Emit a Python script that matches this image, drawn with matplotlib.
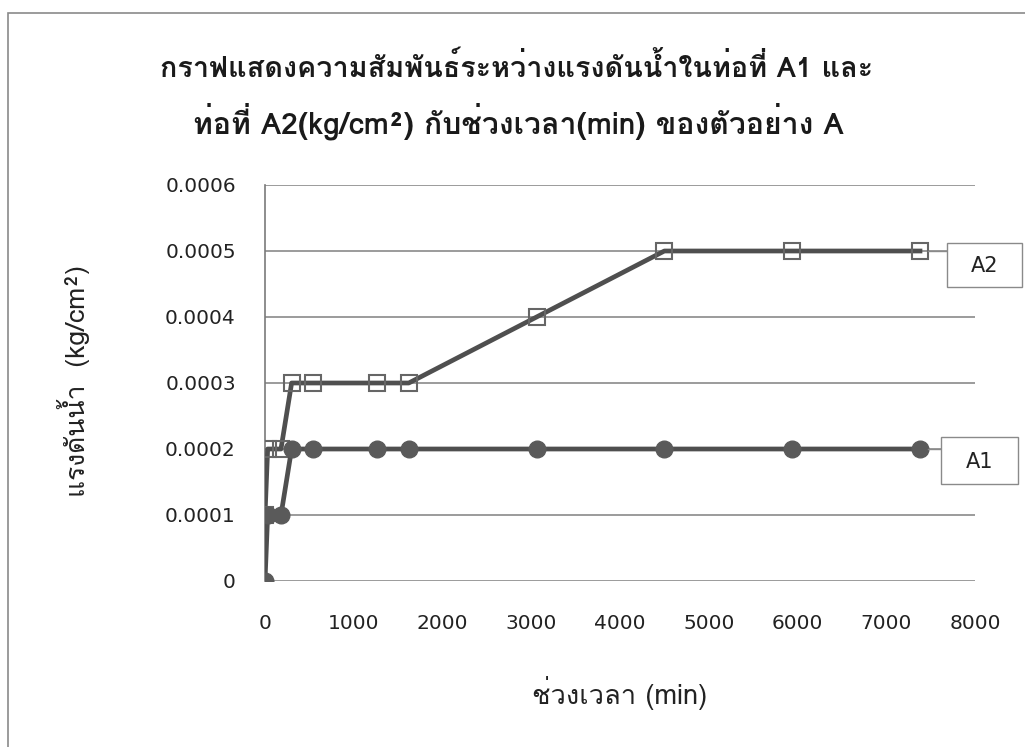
import matplotlib
matplotlib.use("Agg")
import matplotlib.pyplot as plt
from matplotlib import font_manager as fm
from matplotlib.ft2font import FT2Font
from matplotlib.patches import Rectangle
from matplotlib.lines import Line2D

# ---------------- data ----------------
time_min = [0, 30, 180, 300, 540, 1260, 1620, 3060, 4500, 5940, 7380]
a1_pressure = [0, 0.0001, 0.0001, 0.0002, 0.0002, 0.0002, 0.0002, 0.0002, 0.0002, 0.0002, 0.0002]
a2_pressure = [0.0001, 0.0002, 0.0002, 0.0003, 0.0003, 0.0003, 0.0003, 0.0004, 0.0005, 0.0005, 0.0005]
x_ticks = [0, 1000, 2000, 3000, 4000, 5000, 6000, 7000, 8000]
y_ticks = [0, 0.0001, 0.0002, 0.0003, 0.0004, 0.0005, 0.0006]
y_tick_labels = ["0", "0.0001", "0.0002", "0.0003", "0.0004", "0.0005", "0.0006"]
series_names = ["A1", "A2"]
title_line1 = "กราฟแสดงความสัมพันธ์ระหว่างแรงดันน้ำในท่อที่ A1 และ"
title_line2 = "ท่อที่ A2(kg/cm²) กับช่วงเวลา(min) ของตัวอย่าง A"
y_label = "แรงดันน้ำ  (kg/cm²)"
x_label = "ช่วงเวลา (min)"

# ---------------- fonts ----------------
def has_thai(path):
    try:
        f = FT2Font(path)
        return f.get_char_index(0x0E01) != 0
    except Exception:
        return False

thai_fonts = {fe.name for fe in fm.fontManager.ttflist if has_thai(fe.fname)}
thai_font = None
for p in ["Tahoma", "Loma", "Noto Sans Thai Looped", "Noto Sans Thai", "IBM Plex Sans Thai Looped"]:
    if p in thai_fonts:
        thai_font = p
        break
fam = ([thai_font] if thai_font else []) + ["DejaVu Sans"]
plt.rcParams["font.family"] = fam

# ---------------- figure ----------------
W, H = 1025, 747
fig = plt.figure(figsize=(W / 100, H / 100), dpi=100)
fig.patch.set_facecolor("white")

def fpx(x, y):
    return (x / W, 1 - y / H)

# outer chart border
fig.patches.append(Rectangle((8 / W, -0.05), 1.2, 1 - 13 / H + 0.05,
                             transform=fig.transFigure, fill=False,
                             edgecolor="#8a8a8a", linewidth=1.2))

ax = fig.add_axes([265 / W, 1 - 581 / H, (975 - 265) / W, (581 - 185) / H])
ax.set_xlim(0, 8000)
ax.set_ylim(0, 0.0006)
for s in ["top", "right", "bottom"]:
    ax.spines[s].set_visible(False)
ax.spines["left"].set_color("#7a7a7a")
ax.spines["left"].set_linewidth(1.2)
ax.set_xticks(x_ticks)
ax.set_xticklabels([str(t) for t in x_ticks])
ax.set_yticks(y_ticks)
ax.set_yticklabels(y_tick_labels)
ax.tick_params(axis="both", length=0, labelsize=14.5, colors="#222222")
ax.tick_params(axis="x", pad=24)
ax.tick_params(axis="y", pad=21)
for lab in ax.get_xticklabels() + ax.get_yticklabels():
    lab.set_family(["DejaVu Sans"])
ax.grid(axis="y", color="#8a8a8a", linewidth=1.2)
ax.set_axisbelow(True)

line_col = "#4f4f4f"
ax.plot(time_min, a2_pressure, color=line_col, linewidth=3.4, marker="s",
        markersize=11.5, markerfacecolor="none", markeredgecolor="#666666",
        markeredgewidth=1.5, zorder=3)
ax.plot(time_min, a1_pressure, color=line_col, linewidth=3.4, marker="o",
        markersize=12, markerfacecolor="#5a5a5a", markeredgecolor="#5a5a5a",
        zorder=4)

# data labels with leader lines (boxes in figure pixels)
boxes = {"A2": (947, 243, 1022, 287), "A1": (941, 437, 1018, 484)}
series_y = {"A1": a1_pressure, "A2": a2_pressure}
for name in series_names:
    x0, y0, x1, y1 = boxes[name]
    fig.patches.append(Rectangle(fpx(x0, y1), (x1 - x0) / W, (y1 - y0) / H,
                                 transform=fig.transFigure, facecolor="white",
                                 edgecolor="#8a8a8a", linewidth=1.0, zorder=6))
    fig.text(*fpx((x0 + x1) / 2, (y0 + y1) / 2 + 1), name, ha="center", va="center",
             fontsize=15, family=["DejaVu Sans"], color="#222222", zorder=7)
    # leader line from last point to the box edge
    px, py = ax.transData.transform((time_min[-1], series_y[name][-1]))
    fig.lines.append(Line2D([px + 8, x0], [py, py], transform=None,
                            color="#8a8a8a", linewidth=1.0, zorder=5))

# titles & axis labels
t1 = fig.text(*fpx(517, 67), title_line1, ha="center", va="center",
              fontsize=17, fontweight="bold", color="#1a1a1a")
t2 = fig.text(*fpx(518, 121), title_line2, ha="center", va="center",
              fontsize=17, fontweight="bold", color="#1a1a1a")
yl = fig.text(*fpx(73, 381), y_label, ha="center", va="center", rotation=90,
              fontsize=14, color="#222222")
xl = fig.text(*fpx(620, 693), x_label, ha="center", va="center",
              fontsize=14, color="#222222")

# fit text sizes to the reference extents
renderer = fig.canvas.get_renderer()
def fit(t, target, dim="w"):
    for _ in range(3):
        bb = t.get_window_extent(renderer=renderer)
        cur = bb.width if dim == "w" else bb.height
        if cur > 0:
            t.set_fontsize(t.get_fontsize() * target / cur)

fit(t1, 713)
fit(t2, 650)
fit(yl, 232, "h")
fit(xl, 175)

fig.savefig("out.png", dpi=100, facecolor="white")
